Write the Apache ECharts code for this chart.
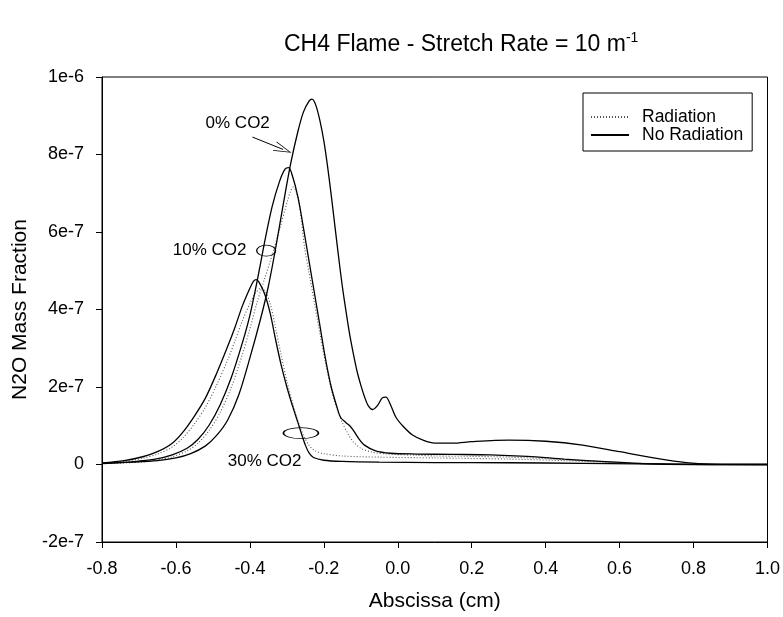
<!DOCTYPE html>
<html>
<head>
<meta charset="utf-8">
<script src="https://cdn.jsdelivr.net/npm/echarts@6/dist/echarts.min.js"></script>
<style>html,body{margin:0;padding:0;background:#fff}#c{width:783px;height:617px}</style>
</head>
<body>
<div id="c"></div>
<script>
// ---- data (y values in units of 1e-7) ----
const x0NoRad = [-0.80,-0.72,-0.65,-0.60,-0.56,-0.52,-0.49,-0.46,-0.43,-0.40,-0.37,-0.35,-0.33,-0.31,-0.29,-0.27,-0.255,-0.24,-0.232,-0.222,-0.21,-0.20,-0.19,-0.18,-0.17,-0.16,-0.15,-0.14,-0.13,-0.12,-0.11,-0.10,-0.09,-0.08,-0.068,-0.055,-0.042,-0.032,-0.02,-0.005,0.015,0.04,0.07,0.10,0.15,0.20,0.30,0.40,0.50,0.60,0.70,0.78,0.85,1.00];
const y0NoRad = [0.03,0.06,0.10,0.17,0.28,0.48,0.75,1.15,1.80,2.75,3.80,4.60,5.60,6.70,7.75,8.60,9.10,9.38,9.43,9.28,8.85,8.35,7.70,6.95,6.15,5.35,4.60,3.95,3.35,2.85,2.40,2.05,1.75,1.52,1.42,1.52,1.72,1.74,1.55,1.22,0.98,0.76,0.62,0.55,0.55,0.59,0.63,0.60,0.50,0.33,0.16,0.05,0.01,0.00];

const x10NoRad = [-0.80,-0.72,-0.66,-0.61,-0.57,-0.54,-0.51,-0.48,-0.45,-0.42,-0.40,-0.38,-0.36,-0.34,-0.32,-0.305,-0.295,-0.285,-0.27,-0.255,-0.24,-0.225,-0.21,-0.195,-0.18,-0.165,-0.155,-0.14,-0.13,-0.12,-0.105,-0.09,-0.06,-0.02,0.05,0.15,0.25,0.35,0.45,0.55,0.65,0.75,0.85,1.00];
const y10NoRad = [0.02,0.07,0.13,0.25,0.42,0.65,1.02,1.55,2.25,3.15,3.85,4.75,5.75,6.65,7.30,7.62,7.66,7.45,6.90,6.10,5.25,4.40,3.55,2.70,2.00,1.50,1.22,1.08,1.00,0.88,0.66,0.50,0.35,0.29,0.27,0.26,0.25,0.21,0.14,0.08,0.03,0.01,0.00,0.00];

const x10Rad = [-0.80,-0.72,-0.66,-0.61,-0.57,-0.54,-0.51,-0.48,-0.45,-0.42,-0.40,-0.38,-0.36,-0.34,-0.32,-0.30,-0.29,-0.283,-0.275,-0.265,-0.252,-0.24,-0.225,-0.21,-0.195,-0.18,-0.165,-0.15,-0.135,-0.12,-0.10,-0.07,-0.03,0.05,0.10,0.20,0.30,0.40,0.50,0.60,0.70,0.80,1.00];
const y10Rad = [0.02,0.05,0.10,0.20,0.35,0.55,0.88,1.35,2.00,2.85,3.50,4.20,4.80,5.40,6.05,6.75,7.05,7.16,7.05,6.65,5.60,4.95,4.15,3.35,2.60,1.95,1.45,1.08,0.80,0.58,0.42,0.32,0.27,0.24,0.22,0.21,0.19,0.15,0.10,0.05,0.02,0.00,0.00];

const x30NoRad = [-0.80,-0.74,-0.69,-0.65,-0.61,-0.58,-0.55,-0.52,-0.49,-0.46,-0.44,-0.42,-0.40,-0.39,-0.383,-0.375,-0.36,-0.345,-0.33,-0.315,-0.30,-0.285,-0.27,-0.26,-0.25,-0.24,-0.228,-0.20,-0.15,-0.05,0.10,0.30,0.50,0.65,0.80,1.00];
const y30NoRad = [0.04,0.10,0.20,0.33,0.55,0.85,1.25,1.72,2.35,3.05,3.55,4.10,4.55,4.73,4.77,4.70,4.40,3.90,3.20,2.55,2.00,1.52,1.08,0.78,0.50,0.30,0.18,0.11,0.08,0.06,0.05,0.045,0.03,0.015,0.00,0.00];

const x30Rad = [-0.80,-0.74,-0.69,-0.65,-0.61,-0.58,-0.55,-0.52,-0.49,-0.46,-0.44,-0.42,-0.40,-0.385,-0.37,-0.36,-0.345,-0.33,-0.315,-0.30,-0.285,-0.27,-0.255,-0.24,-0.225,-0.20,-0.15,-0.05,0.10,0.30,0.45,0.55,0.65,0.75,0.85,1.00];
const y30Rad = [0.03,0.08,0.16,0.27,0.45,0.70,1.05,1.48,2.05,2.70,3.20,3.72,4.15,4.42,4.55,4.50,4.15,3.50,2.80,2.15,1.60,1.12,0.75,0.50,0.36,0.28,0.22,0.19,0.17,0.14,0.10,0.06,0.03,0.01,0.00,0.00];

// annotations: label text and anchor [x, y(1e-7)]
const annotText = ['0% CO2', '10% CO2', '30% CO2'];
const annotX = [-0.433, -0.509, -0.360];
const annotY = [8.81, 5.54, 0.08];
const ellipseX = [-0.356, -0.262];
const ellipseY = [5.52, 0.81];
const arrowFrom = [-0.393, 8.45];
const arrowTo = [-0.310, 8.13];

const xTicks = {min: -0.8, max: 1.0, step: 0.2};
const yTicks = {min: -2e-7, max: 1e-6, step: 2e-7};

const E = 1e-7;
const pairs = (xs, ys) => xs.map((x, i) => [x, ys[i] * E]);
const FONT = 'Liberation Sans, Arial, sans-serif';

const solid = {color: '#000', width: 1.3, type: 'solid'};
const dotted = {color: '#555', width: 1.1, type: [1, 2]};
function lineSeries(name, data, style) {
  return {type: 'line', name, data, symbol: 'none', smooth: 0.3,
    lineStyle: style, itemStyle: {color: style.color}, silent: true, z: 3};
}

const chart = echarts.init(document.getElementById('c'), null, {renderer: 'canvas'});
chart.setOption({
  animation: false,
  backgroundColor: '#fff',
  title: {
    text: 'CH4 Flame - Stretch Rate = 10 m{sup|-1}',
    left: 279, top: 26,
    textStyle: {fontFamily: FONT, fontSize: 23, fontWeight: 'normal', color: '#000',
      rich: {sup: {fontFamily: FONT, fontSize: 14, color: '#000', padding: [0, 0, 13, 0]}}}
  },
  legend: {
    data: ['Radiation', 'No Radiation'],
    orient: 'vertical', left: 583, top: 93,
    itemWidth: 38, itemHeight: 2, itemGap: 0,
    padding: [15, 9, 7, 7],
    borderColor: '#000', borderWidth: 1,
    itemStyle: {opacity: 0},
    textStyle: {fontFamily: FONT, fontSize: 17.5, color: '#000', lineHeight: 17.5, padding: [0, 0, 0, 8]}
  },
  grid: {left: 102, right: 14, top: 77, bottom: 74, show: true, borderColor: '#000', borderWidth: 1, backgroundColor: 'transparent'},
  xAxis: {
    type: 'value', min: xTicks.min, max: xTicks.max, interval: xTicks.step,
    name: 'Abscissa (cm)', nameLocation: 'middle', nameGap: 49,
    nameTextStyle: {fontFamily: FONT, fontSize: 21, color: '#000'},
    axisLine: {onZero: false, lineStyle: {color: '#000', width: 1}},
    axisTick: {inside: false, length: 6, lineStyle: {color: '#000'}},
    axisLabel: {fontFamily: FONT, fontSize: 18, color: '#000', margin: 18,
      formatter: v => (Math.abs(v) < 1e-9 ? 0 : v).toFixed(1)},
    splitLine: {show: false}
  },
  yAxis: {
    type: 'value', min: yTicks.min, max: yTicks.max, interval: yTicks.step,
    name: 'N2O Mass Fraction', nameLocation: 'middle', nameGap: 70,
    nameTextStyle: {fontFamily: FONT, fontSize: 21, color: '#000'},
    axisLine: {onZero: false, lineStyle: {color: '#000', width: 1}},
    axisTick: {inside: false, length: 6, lineStyle: {color: '#000'}},
    axisLabel: {fontFamily: FONT, fontSize: 18, color: '#000', margin: 18,
      formatter: v => Math.abs(v) < 1e-12 ? '0' : v.toExponential(0).replace('e+', 'e')},
    splitLine: {show: false}
  },
  series: [
    lineSeries('Radiation', pairs(x10Rad, y10Rad), dotted),
    lineSeries('Radiation', pairs(x30Rad, y30Rad), dotted),
    lineSeries('No Radiation', pairs(x0NoRad, y0NoRad), solid),
    lineSeries('No Radiation', pairs(x10NoRad, y10NoRad), solid),
    lineSeries('No Radiation', pairs(x30NoRad, y30NoRad), solid),
    {
      type: 'scatter', name: 'labels', silent: true, symbolSize: 0, z: 5,
      itemStyle: {opacity: 1},
      data: annotText.map((t, i) => ({name: t, value: [annotX[i], annotY[i] * E]})),
      label: {show: true, position: 'inside', formatter: p => p.name,
        fontFamily: FONT, fontSize: 17, color: '#000', opacity: 1},
      markLine: {
        silent: true, animation: false,
        symbol: ['none', 'path://M10,0 L20,20 L18.5,20 L10,3 L1.5,20 L0,20 Z'],
        symbolSize: [10, 18],
        lineStyle: {color: '#000', width: 1, type: 'solid', opacity: 1},
        itemStyle: {color: '#000', opacity: 1},
        label: {show: false},
        data: [[{coord: [arrowFrom[0], arrowFrom[1] * E]}, {coord: [arrowTo[0], arrowTo[1] * E]}]]
      }
    },
    {
      type: 'scatter', name: 'ellipses', silent: true, z: 6,
      symbol: 'circle',
      data: [
        {value: [ellipseX[0], ellipseY[0] * E], symbolSize: [19, 11]},
        {value: [ellipseX[1], ellipseY[1] * E], symbolSize: [35, 11]}
      ],
      itemStyle: {color: 'rgba(0,0,0,0)', borderColor: '#000', borderWidth: 1, opacity: 1}
    }
  ]
});
</script>
</body>
</html>
